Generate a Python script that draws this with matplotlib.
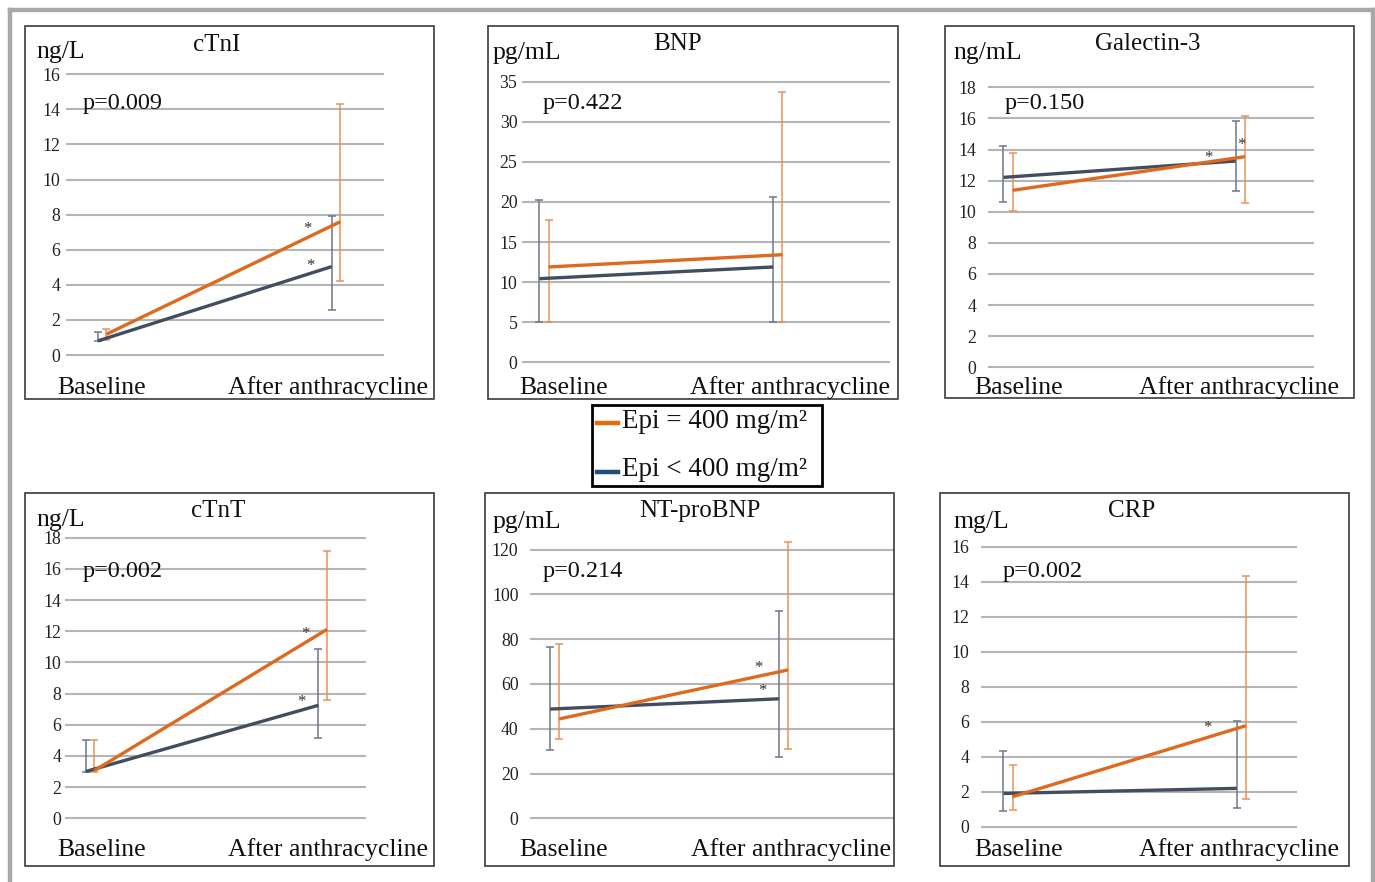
import matplotlib
matplotlib.use("Agg")
import matplotlib.pyplot as plt
from matplotlib.lines import Line2D
from matplotlib.patches import Rectangle
import numpy as np

# ---------------- data ----------------
categories = ["Baseline", "After anthracycline"]
panels = ["cTnI", "BNP", "Galectin-3", "cTnT", "NT-proBNP", "CRP"]
units = ["ng/L", "pg/mL", "ng/mL", "ng/L", "pg/mL", "mg/L"]
p_values = ["p=0.009", "p=0.422", "p=0.150", "p=0.002", "p=0.214", "p=0.002"]
y_max = [16, 35, 18, 18, 120, 16]
y_step = [2, 5, 2, 2, 20, 2]
series_labels = ["Epi = 400 mg/m²", "Epi < 400 mg/m²"]

# Epi < 400 (dark slate)
low_mean = [[0.8, 5.04], [10.43, 11.89], [12.21, 13.26], [3.0, 7.25], [48.8, 53.4], [1.9, 2.19]]
low_lo = [[0.8, 2.57], [5.0, 5.0], [10.63, 11.31], [3.0, 5.13], [30.4, 27.5], [0.9, 1.05]]
low_hi = [[1.3, 7.93], [20.3, 20.66], [14.25, 15.86], [5.02, 10.84], [76.7, 92.5], [4.34, 6.02]]
# Epi = 400 (orange)
high_mean = [[1.18, 7.6], [11.89, 13.42], [11.38, 13.54], [3.06, 12.12], [44.4, 66.3], [1.71, 5.77]]
high_lo = [[0.86, 4.22], [5.0, 5.0], [10.03, 10.59], [3.0, 7.59], [35.6, 31.1], [0.95, 1.58]]
high_hi = [[1.48, 14.3], [17.7, 33.75], [13.8, 16.18], [5.02, 17.17], [77.9, 123.4], [3.54, 14.34]]
# significance markers
low_star = [[False, True], [False, False], [False, True], [False, True], [False, True], [False, False]]
high_star = [[False, True], [False, False], [False, True], [False, True], [False, True], [False, True]]

# ---------------- layout (pixels) ----------------
W, H = 1375, 882
FONT = "Liberation Serif"
plt.rcParams["font.family"] = [FONT, "DejaVu Serif"]

layout = [
    dict(box=(25, 26, 434, 399), plot=(67, 74.3, 383, 355), xm=(0.131, 0.219), d=0.037,
         title=(217, 45), unit=(36, 52), p=(83, 104), base=57, after=428, caty=388, pad=5,
         star_hi=(-33, -5), star_lo=(-21, 3)),
    dict(box=(488, 26, 898, 399), plot=(523, 81.7, 889, 362.3), xm=(0.07, 0.496), d=0.04,
         title=(678, 44), unit=(493, 53), p=(543, 104), base=519, after=890, caty=388, pad=4,
         star_hi=(0, 0), star_lo=(0, 0)),
    dict(box=(945, 26, 1354, 398), plot=(989, 87.3, 1313, 367.3), xm=(0.062, 0.333), d=0.04,
         title=(1148, 44), unit=(953, 53), p=(1005, 104), base=974, after=1339, caty=388, pad=9,
         star_hi=(-4, 14), star_lo=(-27, 5)),
    dict(box=(25, 493, 434, 866), plot=(65.7, 537.7, 365, 818.3), xm=(0.086, 0.2), d=0.037,
         title=(218, 511), unit=(36, 520), p=(83, 571), base=57, after=428, caty=850, pad=3,
         star_hi=(-22, -3), star_lo=(-17, 5)),
    dict(box=(485, 493, 894, 866), plot=(531, 549.7, 893, 818.3), xm=(0.084, 0.497), d=0.039,
         title=(700, 511), unit=(493, 522), p=(543, 571), base=519, after=891, caty=850, pad=9,
         star_hi=(-30, 4), star_lo=(-17, 10)),
    dict(box=(940, 493, 1349, 866), plot=(981.7, 546.7, 1296, 826.7), xm=(0.093, 0.254), d=0.039,
         title=(1132, 511), unit=(953, 522), p=(1003, 571), base=974, after=1339, caty=850, pad=9,
         star_hi=(-38, 0), star_lo=(0, 0)),
]

C_HI = "#DE6A1F"
C_HI_ERR = "#E8925A"
C_LO = "#424D60"
C_LO_ERR = "#6E778A"
GRID = "#B5B5B5"


def fx(x):
    return x / W


def fy(y):
    return 1 - y / H


fig = plt.figure(figsize=(W / 100, H / 100), dpi=100)
fig.patch.set_facecolor("white")

# outer gray frame (left, top, right)
for xs, ys in [((10, 10), (10, 900)), ((10, 1372.5), (10, 10)), ((1372.5, 1372.5), (10, 900))]:
    fig.add_artist(Line2D([fx(v) for v in xs], [fy(v) for v in ys], color="#A8A8A8",
                          lw=3.2, transform=fig.transFigure, solid_capstyle="projecting"))

for i, name in enumerate(panels):
    L = layout[i]
    bl, bt, br, bb = L["box"]
    fig.add_artist(Rectangle((fx(bl), fy(bb)), fx(br) - fx(bl), fy(bt) - fy(bb),
                             transform=fig.transFigure, fill=False, ec="#3A3A3A", lw=1.2))
    pl, pt, pr, pb = L["plot"]
    ax = fig.add_axes([fx(pl), fy(pb), fx(pr) - fx(pl), fy(pt) - fy(pb)])
    ax.set_facecolor("none")
    for s in ax.spines.values():
        s.set_visible(False)
    a, b = L["xm"]
    ax.set_xlim(-a, 1 + b)
    ax.set_ylim(0, y_max[i])
    ticks = np.arange(0, y_max[i] + 0.001, y_step[i])
    for t in ticks:
        ax.axhline(t, color=GRID, lw=1.5, zorder=0, clip_on=False)
    ax.set_yticks(ticks)
    ax.set_yticklabels([f"{int(t)}" for t in ticks], fontsize=12.8, family=FONT, color="#222222")
    ax.tick_params(axis="y", length=0, pad=L["pad"])
    ax.set_xticks([])

    x_lo = np.array([0.0, 1.0])
    x_hi = x_lo + L["d"]
    lm = np.array(low_mean[i]); ll = np.array(low_lo[i]); lh = np.array(low_hi[i])
    hm = np.array(high_mean[i]); hl = np.array(high_lo[i]); hh = np.array(high_hi[i])

    ax.errorbar(x_lo, lm, yerr=[np.clip(lm - ll, 0, None), np.clip(lh - lm, 0, None)],
                fmt="none", ecolor=C_LO_ERR,
                elinewidth=1.1, capsize=2.6, capthick=1.1, zorder=2, clip_on=False)
    ax.errorbar(x_hi, hm, yerr=[np.clip(hm - hl, 0, None), np.clip(hh - hm, 0, None)],
                fmt="none", ecolor=C_HI_ERR,
                elinewidth=1.1, capsize=2.6, capthick=1.1, zorder=2, clip_on=False)
    ax.plot(x_lo, lm, color=C_LO, lw=2.4, zorder=3, clip_on=False, solid_capstyle="butt")
    ax.plot(x_hi, hm, color=C_HI, lw=2.4, zorder=4, clip_on=False, solid_capstyle="butt")

    for k in range(2):
        if high_star[i][k]:
            dx, dy = L["star_hi"]
            ax.annotate("*", xy=(x_hi[k], hm[k]), xytext=(dx, dy - 2), textcoords="offset pixels",
                        ha="center", va="center", fontsize=12, color="#333333", family=FONT)
        if low_star[i][k]:
            dx, dy = L["star_lo"]
            ax.annotate("*", xy=(x_lo[k], lm[k]), xytext=(dx, dy - 2), textcoords="offset pixels",
                        ha="center", va="center", fontsize=12, color="#333333", family=FONT)

    fig.text(fx(L["title"][0]), fy(L["title"][1]), name, ha="center", va="center",
             fontsize=18, family=FONT, color="#111111")
    fig.text(fx(L["unit"][0]), fy(L["unit"][1]), units[i], ha="left", va="center",
             fontsize=18.5, family=FONT, color="#111111")
    fig.text(fx(L["p"][0]), fy(L["p"][1]), p_values[i], ha="left", va="center",
             fontsize=17.5, family=FONT, color="#111111")
    fig.text(fx(L["base"]), fy(L["caty"]), categories[0], ha="left", va="center",
             fontsize=18.5, family=FONT, color="#111111")
    fig.text(fx(L["after"]), fy(L["caty"]), categories[1], ha="right", va="center",
             fontsize=18.5, family=FONT, color="#111111")

# legend box
lg_l, lg_t, lg_r, lg_b = 592, 405, 822, 486
fig.add_artist(Rectangle((fx(lg_l), fy(lg_b)), fx(lg_r) - fx(lg_l), fy(lg_t) - fy(lg_b),
                         transform=fig.transFigure, fill=False, ec="black", lw=2.0))
legend_colors = ["#E46C0A", "#1F4E79"]
for j, (lab, yc) in enumerate(zip(series_labels, [423, 472])):
    fig.add_artist(Line2D([fx(597), fx(618)], [fy(yc), fy(yc)], color=legend_colors[j], lw=3.2,
                          transform=fig.transFigure))
    fig.text(fx(622), fy(yc - 2), lab, ha="left", va="center", fontsize=19.5, family=FONT,
             color="#111111")

fig.savefig("out.png", dpi=100, facecolor="white")
